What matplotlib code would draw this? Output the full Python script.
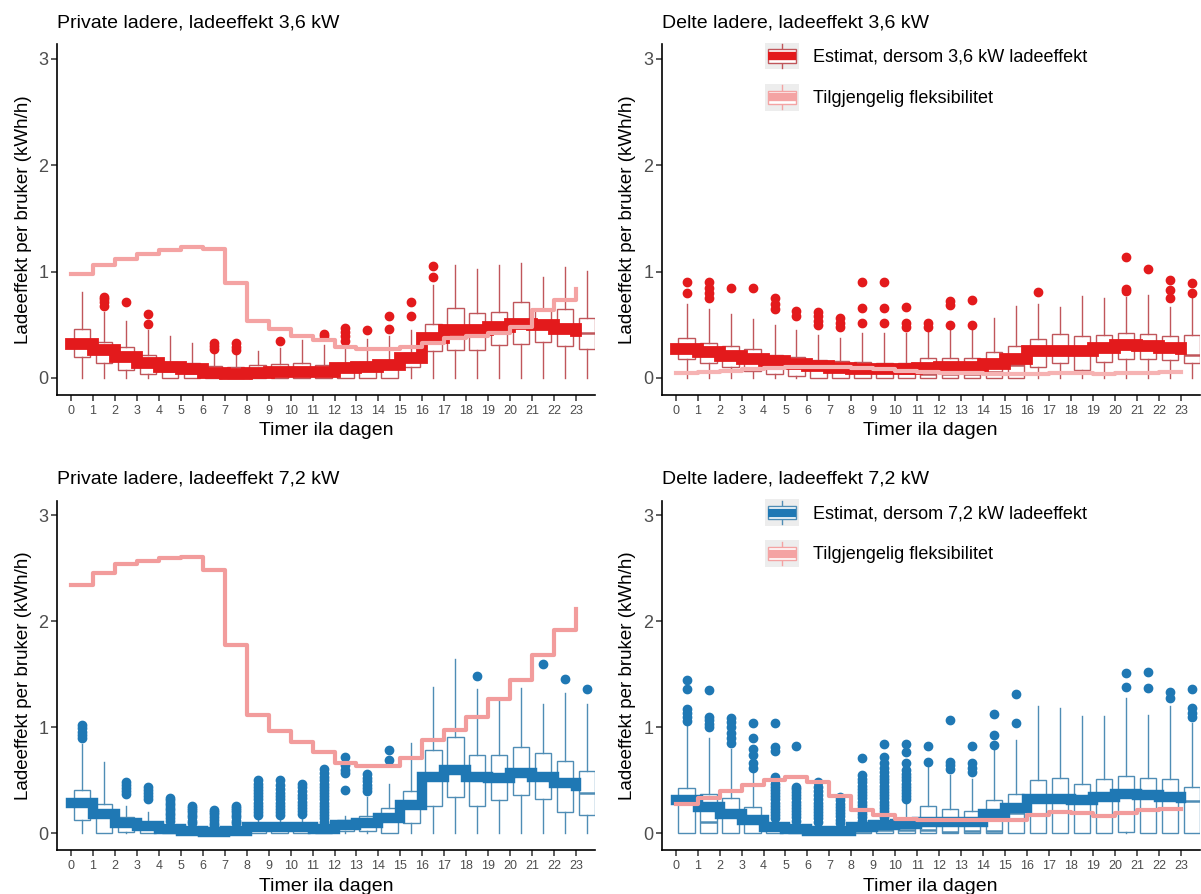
import numpy as np
import matplotlib
matplotlib.use("Agg")
import matplotlib.pyplot as plt
from matplotlib.patches import Rectangle
from matplotlib.lines import Line2D
from matplotlib.legend_handler import HandlerBase

plt.rcParams['font.family'] = ['Liberation Sans', 'DejaVu Sans']

hours = np.arange(24)

# ---- Private ladere, 3,6 kW ----
tl_est = [0.32, 0.26, 0.20, 0.145, 0.105, 0.08, 0.05, 0.04, 0.05, 0.06, 0.06, 0.06,
          0.09, 0.105, 0.12, 0.185, 0.38, 0.45, 0.45, 0.48, 0.51, 0.50, 0.46, 0.44]
tl_flex = [0.975, 1.06, 1.12, 1.17, 1.20, 1.235, 1.21, 0.89, 0.54, 0.46, 0.395, 0.36,
           0.295, 0.27, 0.27, 0.29, 0.325, 0.375, 0.395, 0.42, 0.48, 0.64, 0.73, 0.835]
tl_q1 = [0.20, 0.14, 0.075, 0.04, 0, 0, 0, 0, 0, 0, 0, 0,
         0, 0, 0, 0.10, 0.25, 0.26, 0.26, 0.31, 0.32, 0.335, 0.30, 0.27]
tl_med = [0.32, 0.25, 0.19, 0.13, 0.07, 0.05, 0.04, 0.03, 0.04, 0.04, 0.05, 0.05,
          0.07, 0.08, 0.10, 0.17, 0.38, 0.43, 0.45, 0.47, 0.50, 0.52, 0.45, 0.42]
tl_q3 = [0.46, 0.34, 0.29, 0.22, 0.15, 0.14, 0.11, 0.10, 0.12, 0.13, 0.14, 0.12,
         0.14, 0.15, 0.16, 0.23, 0.51, 0.655, 0.61, 0.62, 0.71, 0.645, 0.645, 0.56]
tl_hi = [0.81, 0.62, 0.54, 0.45, 0.39, 0.33, 0.25, 0.24, 0.25, 0.28, 0.36, 0.31,
         0.29, 0.37, 0.395, 0.45, 0.875, 1.06, 1.02, 1.06, 1.085, 0.95, 1.04, 1.01]
tl_out = [[], [0.68, 0.71, 0.74, 0.76], [0.71], [0.51, 0.60], [], [], [0.27, 0.30, 0.33],
          [0.26, 0.29, 0.33], [], [0.35], [], [0.39, 0.41], [0.35, 0.39, 0.43, 0.47], [0.45],
          [0.46, 0.58], [0.58, 0.71], [0.95, 1.05], [], [], [], [], [], [], []]

# ---- Delte ladere, 3,6 kW ----
tr_est = [0.27, 0.24, 0.21, 0.18, 0.16, 0.13, 0.11, 0.09, 0.08, 0.08, 0.08, 0.09,
          0.10, 0.10, 0.13, 0.18, 0.25, 0.25, 0.25, 0.28, 0.31, 0.30, 0.28, 0.27]
tr_flex = [0.05, 0.06, 0.07, 0.08, 0.09, 0.10, 0.10, 0.10, 0.09, 0.08, 0.07, 0.06,
           0.05, 0.05, 0.04, 0.04, 0.04, 0.05, 0.05, 0.04, 0.045, 0.05, 0.055, 0.055]
tr_q1 = [0.18, 0.14, 0.10, 0.07, 0.04, 0.02, 0, 0, 0, 0, 0, 0,
         0, 0, 0, 0, 0.10, 0.14, 0.075, 0.15, 0.175, 0.175, 0.17, 0.14]
tr_med = [0.27, 0.24, 0.20, 0.16, 0.12, 0.10, 0.08, 0.07, 0.06, 0.06, 0.05, 0.04,
          0.04, 0.04, 0.06, 0.12, 0.25, 0.26, 0.25, 0.28, 0.30, 0.29, 0.27, 0.22]
tr_q3 = [0.38, 0.33, 0.30, 0.27, 0.22, 0.20, 0.17, 0.16, 0.15, 0.14, 0.14, 0.185,
         0.185, 0.185, 0.24, 0.30, 0.37, 0.41, 0.395, 0.405, 0.42, 0.41, 0.39, 0.40]
tr_hi = [0.70, 0.65, 0.60, 0.55, 0.50, 0.45, 0.40, 0.38, 0.42, 0.42, 0.42, 0.43,
         0.45, 0.45, 0.56, 0.68, 0.70, 0.665, 0.775, 0.75, 0.765, 0.78, 0.67, 0.75]
tr_out = [[0.80, 0.90], [0.75, 0.80, 0.85, 0.90], [0.85], [0.85], [0.65, 0.70, 0.75],
          [0.58, 0.63], [0.50, 0.54, 0.58, 0.62], [0.48, 0.52, 0.56], [0.52, 0.66, 0.90],
          [0.52, 0.66, 0.90], [0.48, 0.52, 0.67], [0.48, 0.52], [0.50, 0.69, 0.72],
          [0.50, 0.73], [], [], [0.81], [], [], [], [0.82, 0.84, 1.14], [1.02],
          [0.75, 0.83, 0.92], [0.80, 0.89]]

# ---- Private ladere, 7,2 kW ----
bl_est = [0.29, 0.18, 0.095, 0.065, 0.04, 0.02, 0.01, 0.02, 0.055, 0.06, 0.06, 0.045,
          0.08, 0.095, 0.14, 0.27, 0.535, 0.60, 0.535, 0.52, 0.565, 0.535, 0.475, 0.45]
bl_flex = [2.34, 2.46, 2.54, 2.57, 2.60, 2.61, 2.48, 1.78, 1.115, 0.97, 0.86, 0.77,
           0.66, 0.635, 0.635, 0.71, 0.88, 0.975, 1.095, 1.265, 1.45, 1.68, 1.92, 2.12]
bl_q1 = [0.125, 0, 0.015, 0, 0, 0, 0, 0, 0, 0, 0, 0,
         0.02, 0.02, 0, 0.095, 0.26, 0.345, 0.26, 0.315, 0.36, 0.32, 0.20, 0.17]
bl_med = [0.28, 0.17, 0.08, 0.05, 0.02, 0.01, 0.01, 0.01, 0.03, 0.03, 0.03, 0.03,
          0.06, 0.08, 0.12, 0.27, 0.50, 0.60, 0.53, 0.52, 0.57, 0.54, 0.47, 0.385]
bl_q3 = [0.41, 0.28, 0.155, 0.10, 0.05, 0.04, 0.03, 0.04, 0.06, 0.06, 0.07, 0.08,
         0.13, 0.16, 0.24, 0.40, 0.785, 0.905, 0.74, 0.74, 0.81, 0.76, 0.685, 0.59]
bl_hi = [0.84, 0.67, 0.26, 0.20, 0.10, 0.08, 0.06, 0.08, 0.14, 0.14, 0.15, 0.10,
         0.16, 0.34, 0.465, 0.85, 1.38, 1.645, 1.36, 1.25, 1.375, 1.225, 1.32, 1.22]
bl_out = [[0.90, 0.93, 0.96, 0.99, 1.02], [], [0.37, 0.40, 0.43, 0.46, 0.48],
          [0.32, 0.35, 0.38, 0.41, 0.44],
          [0.12, 0.14, 0.17, 0.19, 0.22, 0.24, 0.27, 0.29, 0.31, 0.33],
          [0.10, 0.12, 0.15, 0.17, 0.20, 0.22, 0.24, 0.26],
          [0.08, 0.10, 0.13, 0.15, 0.18, 0.20, 0.22],
          [0.10, 0.12, 0.15, 0.17, 0.20, 0.22, 0.24, 0.26],
          [0.17, 0.20, 0.23, 0.26, 0.29, 0.32, 0.35, 0.38, 0.41, 0.44, 0.47, 0.50],
          [0.17, 0.20, 0.23, 0.26, 0.29, 0.32, 0.35, 0.38, 0.42, 0.46, 0.50],
          [0.18, 0.21, 0.24, 0.27, 0.30, 0.33, 0.36, 0.40, 0.44, 0.47],
          [0.11, 0.14, 0.17, 0.20, 0.23, 0.26, 0.29, 0.32, 0.35, 0.38, 0.41, 0.44, 0.47,
           0.50, 0.53, 0.57, 0.61],
          [0.41, 0.57, 0.60, 0.64, 0.72], [0.40, 0.43, 0.46, 0.49, 0.52, 0.56],
          [0.69, 0.79], [], [], [], [1.485], [], [], [1.595], [1.46], [1.36]]

# ---- Delte ladere, 7,2 kW ----
br_est = [0.31, 0.25, 0.18, 0.125, 0.06, 0.04, 0.025, 0.025, 0.06, 0.08, 0.09, 0.11,
          0.11, 0.11, 0.18, 0.235, 0.32, 0.32, 0.31, 0.345, 0.37, 0.36, 0.34, 0.33]
br_flex = [0.28, 0.335, 0.40, 0.455, 0.50, 0.535, 0.485, 0.355, 0.22, 0.17, 0.135, 0.125,
           0.125, 0.125, 0.125, 0.125, 0.17, 0.205, 0.19, 0.165, 0.195, 0.22, 0.225, 0.225]
br_q1 = [0, 0, 0, 0, 0, 0, 0, 0, 0, 0, 0, 0,
         0, 0, 0, 0, 0, 0, 0, 0.005, 0.01, 0, 0, 0]
br_med = [0.31, 0.105, 0.18, 0.10, 0.03, 0.02, 0.01, 0.01, 0.02, 0.03, 0.03, 0.03,
          0.01, 0.02, 0.02, 0.19, 0.32, 0.30, 0.30, 0.33, 0.36, 0.34, 0.33, 0.305]
br_q3 = [0.43, 0.37, 0.335, 0.25, 0.06, 0.05, 0.04, 0.04, 0.05, 0.05, 0.10, 0.26,
         0.23, 0.215, 0.315, 0.37, 0.50, 0.525, 0.47, 0.51, 0.545, 0.52, 0.51, 0.435]
br_hi = [1.02, 0.90, 0.80, 0.58, 0.12, 0.10, 0.09, 0.08, 0.10, 0.10, 0.29, 0.63,
         0.55, 0.51, 0.785, 0.885, 1.20, 1.18, 1.11, 1.11, 1.28, 1.115, 1.20, 1.04]
br_out = [[1.06, 1.10, 1.14, 1.17, 1.36, 1.445], [1.00, 1.03, 1.07, 1.10, 1.35],
          [0.85, 0.90, 0.95, 1.00, 1.05, 1.09], [0.62, 0.66, 0.74, 0.80, 0.90, 1.04],
          [0.14, 0.17, 0.20, 0.23, 0.26, 0.29, 0.32, 0.35, 0.38, 0.41, 0.44, 0.47, 0.50,
           0.53, 0.78, 0.81, 1.04],
          [0.12, 0.15, 0.18, 0.21, 0.24, 0.27, 0.30, 0.33, 0.36, 0.39, 0.42, 0.44, 0.82],
          [0.11, 0.14, 0.17, 0.20, 0.23, 0.26, 0.29, 0.32, 0.36, 0.40, 0.44, 0.48],
          [0.10, 0.13, 0.16, 0.19, 0.22, 0.25, 0.28, 0.31, 0.34],
          [0.12, 0.15, 0.18, 0.21, 0.24, 0.27, 0.30, 0.33, 0.36, 0.39, 0.42, 0.45, 0.48,
           0.51, 0.55, 0.71],
          [0.12, 0.15, 0.18, 0.21, 0.24, 0.27, 0.30, 0.33, 0.36, 0.39, 0.42, 0.45, 0.48,
           0.51, 0.54, 0.58, 0.62, 0.66, 0.72, 0.84],
          [0.32, 0.35, 0.38, 0.41, 0.44, 0.47, 0.50, 0.53, 0.56, 0.60, 0.66, 0.77, 0.84],
          [0.67, 0.82], [0.61, 0.64, 0.67, 1.07], [0.58, 0.62, 0.66, 0.82],
          [0.83, 0.93, 1.13], [1.04, 1.31], [], [], [], [], [1.385, 1.515], [1.37, 1.52],
          [1.275, 1.335], [1.10, 1.14, 1.18, 1.36]]

RED, RED_EDGE = '#E31A1C', '#C0565B'
BLUE, BLUE_EDGE = '#1F78B4', '#4F8DB5'
PINK = '#F4A3A3'

panels = [
    dict(title='Private ladere, ladeeffekt 3,6 kW', est=tl_est, flex=tl_flex, q1=tl_q1,
         med=tl_med, q3=tl_q3, hi=tl_hi, out=tl_out, col=RED, edge=RED_EDGE, pink=PINK,
         lw=8.5, legend=None),
    dict(title='Delte ladere, ladeeffekt 3,6 kW', est=tr_est, flex=tr_flex, q1=tr_q1,
         med=tr_med, q3=tr_q3, hi=tr_hi, out=tr_out, col=RED, edge=RED_EDGE, pink='#F6B3B3',
         lw=8.5, legend='Estimat, dersom 3,6 kW ladeeffekt'),
    dict(title='Private ladere, ladeeffekt 7,2 kW', est=bl_est, flex=bl_flex, q1=bl_q1,
         med=bl_med, q3=bl_q3, hi=bl_hi, out=bl_out, col=BLUE, edge=BLUE_EDGE, pink='#F29C9C',
         lw=7.5, legend=None),
    dict(title='Delte ladere, ladeeffekt 7,2 kW', est=br_est, flex=br_flex, q1=br_q1,
         med=br_med, q3=br_q3, hi=br_hi, out=br_out, col=BLUE, edge=BLUE_EDGE, pink='#F29C9C',
         lw=7.5, legend='Estimat, dersom 7,2 kW ladeeffekt'),
]

positions = [[0.0474, 0.5582, 0.448, 0.3925], [0.5509, 0.5582, 0.448, 0.3925],
             [0.0474, 0.0489, 0.448, 0.3912], [0.5509, 0.0489, 0.448, 0.3912]]


class BoxKey(HandlerBase):
    def __init__(self, edge, band):
        super().__init__()
        self.edge = edge
        self.band = band

    def create_artists(self, legend, orig_handle, xdescent, ydescent, width, height,
                       fontsize, trans):
        x0, y0 = -xdescent, -ydescent
        cx = x0 + width / 2
        bg = Rectangle((x0, y0), width, height, fc='#EDEDED', ec='none', transform=trans)
        w1 = Line2D([cx, cx], [y0 + 0.06 * height, y0 + 0.25 * height], color=self.edge,
                    lw=1, transform=trans)
        w2 = Line2D([cx, cx], [y0 + 0.75 * height, y0 + 0.94 * height], color=self.edge,
                    lw=1, transform=trans)
        box = Rectangle((x0 + 0.1 * width, y0 + 0.25 * height), 0.8 * width, 0.5 * height,
                        fc='white', ec=self.edge, lw=1, transform=trans)
        band = Line2D([x0 + 0.1 * width, x0 + 0.9 * width], [y0 + height / 2] * 2,
                      color=self.band, lw=6, solid_capstyle='butt', transform=trans)
        return [bg, w1, w2, box, band]


fig = plt.figure(figsize=(12.01, 8.94), dpi=100)

for p, pos in zip(panels, positions):
    ax = fig.add_axes(pos)
    stats = []
    for i in range(24):
        stats.append(dict(whislo=0.0, q1=p['q1'][i], med=p['med'][i], q3=p['q3'][i],
                          whishi=p['hi'][i], fliers=p['out'][i]))
    ax.bxp(stats, positions=hours + 0.5, widths=0.75, showcaps=False, patch_artist=True,
           manage_ticks=False,
           boxprops=dict(facecolor='white', edgecolor=p['edge'], linewidth=1),
           whiskerprops=dict(color=p['edge'], linewidth=1),
           medianprops=dict(color=p['edge'], linewidth=1.8),
           flierprops=dict(marker='o', markersize=6, markerfacecolor=p['col'],
                           markeredgecolor=p['col'], linestyle='none'),
           zorder=2)
    ax.plot(hours, p['est'], drawstyle='steps-post', color=p['col'], lw=p['lw'],
            solid_joinstyle='miter', zorder=3)
    ax.plot(hours, p['flex'], drawstyle='steps-post', color=p['pink'], lw=3, zorder=4)

    ax.set_xlim(-0.64, 23.86)
    ax.set_ylim(-0.16, 3.14)
    ax.set_xticks(hours)
    ax.set_xticklabels([str(h) for h in hours])
    ax.set_yticks([0, 1, 2, 3])
    for s in ['top', 'right']:
        ax.spines[s].set_visible(False)
    for s in ['left', 'bottom']:
        ax.spines[s].set_linewidth(1.2)
    ax.tick_params(axis='both', length=4, width=1.1, color='#333333', labelcolor='#4D4D4D')
    ax.tick_params(axis='x', labelsize=9, pad=3)
    ax.tick_params(axis='y', labelsize=13, pad=2)
    ax.set_xlabel('Timer ila dagen', fontsize=14, labelpad=4)
    ax.set_ylabel('Ladeeffekt per bruker (kWh/h)', fontsize=13.5, labelpad=5)
    ax.set_title(p['title'], fontsize=14, loc='left', x=0.0, pad=12)

    if p['legend']:
        h1 = Line2D([], [])
        h2 = Line2D([], [])
        ax.legend([h1, h2], [p['legend'], 'Tilgjengelig fleksibilitet'],
                  handler_map={h1: BoxKey(p['edge'], p['col']), h2: BoxKey(PINK, PINK)},
                  loc='upper left', bbox_to_anchor=(0.192, 1.004), frameon=False,
                  fontsize=13, handlelength=1.9, handleheight=1.9, labelspacing=0.8,
                  handletextpad=0.75, borderpad=0, borderaxespad=0)

fig.savefig('out.png', dpi=100)
